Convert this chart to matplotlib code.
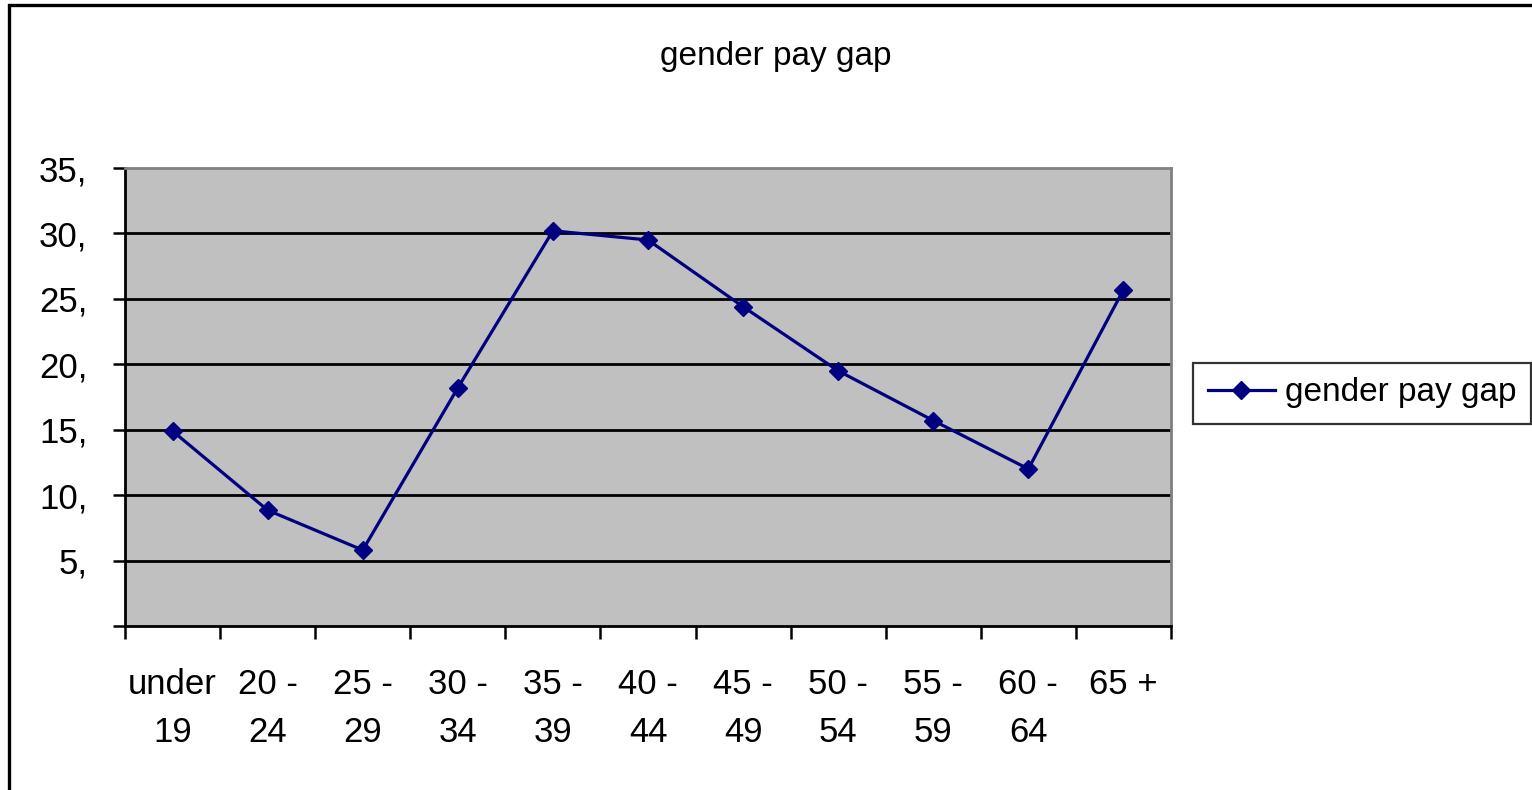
import matplotlib
matplotlib.use("Agg")
import matplotlib.pyplot as plt
from matplotlib.patches import Rectangle
from matplotlib.ticker import FixedLocator, NullFormatter, FixedFormatter

plt.rcParams['font.family'] = ['Liberation Sans', 'DejaVu Sans']

categories = ["under\n19", "20 -\n24", "25 -\n29", "30 -\n34", "35 -\n39", "40 -\n44",
              "45 -\n49", "50 -\n54", "55 -\n59", "60 -\n64", "65 +\n"]
gap_values = [14.9, 8.85, 5.8, 18.2, 30.2, 29.5, 24.4, 19.5, 15.7, 12.0, 25.7]
y_ticks = [0, 5, 10, 15, 20, 25, 30, 35]
y_labels = ["", "5,", "10,", "15,", "20,", "25,", "30,", "35,"]
series_name = "gender pay gap"
title = "gender pay gap"

W, H = 1532, 790
fig = plt.figure(figsize=(W / 100, H / 100), dpi=100)

# outer chart frame (cropped on right/bottom)
fig.patches.append(Rectangle((9 / W, -0.1), 1.2, 1 - 5 / H + 0.1, transform=fig.transFigure,
                             fill=False, edgecolor='black', linewidth=2.4, clip_on=False))

ax = fig.add_axes([125 / W, 164 / H, 1046 / W, 458 / H])
ax.set_facecolor('#C0C0C0')

n = len(categories)
xs = [i + 0.5 for i in range(n)]
ax.plot(xs, gap_values, color='#000080', linewidth=2.3, marker='D', markersize=9.5,
        markerfacecolor='#000080', markeredgecolor='#000080', label=series_name, zorder=3)

ax.set_xlim(0, n)
ax.set_ylim(0, 35)

for y in y_ticks[1:-1]:
    ax.axhline(y, color='black', linewidth=2.0, zorder=1)

ax.yaxis.set_major_locator(FixedLocator(y_ticks))
ax.yaxis.set_major_formatter(FixedFormatter(y_labels))
ax.tick_params(axis='y', direction='out', length=9, width=1.8, pad=18, labelsize=25)

ax.xaxis.set_major_locator(FixedLocator(list(range(n + 1))))
ax.xaxis.set_major_formatter(NullFormatter())
ax.xaxis.set_minor_locator(FixedLocator(xs))
ax.xaxis.set_minor_formatter(FixedFormatter(categories))
ax.tick_params(axis='x', which='major', direction='out', length=9, width=1.8)
ax.tick_params(axis='x', which='minor', length=0, pad=30, labelsize=25)
for lbl in ax.xaxis.get_minorticklabels():
    lbl.set_linespacing(1.6)
    lbl.set_verticalalignment('top')

for s in ['left', 'bottom']:
    ax.spines[s].set_color('black')
    ax.spines[s].set_linewidth(2.0)
for s in ['top', 'right']:
    ax.spines[s].set_color('#808080')
    ax.spines[s].set_linewidth(2.0)

fig.text(776 / W, 1 - 56 / H, title, ha='center', va='center', fontsize=24)

leg = fig.legend(loc='center', bbox_to_anchor=(1362 / W, 1 - 393 / H), fontsize=24,
                 frameon=True, fancybox=False, edgecolor='black', handlelength=2.0,
                 handletextpad=0.3, borderpad=0.45, borderaxespad=0)
leg.get_frame().set_linewidth(1.6)

fig.savefig("out.png", dpi=100)
